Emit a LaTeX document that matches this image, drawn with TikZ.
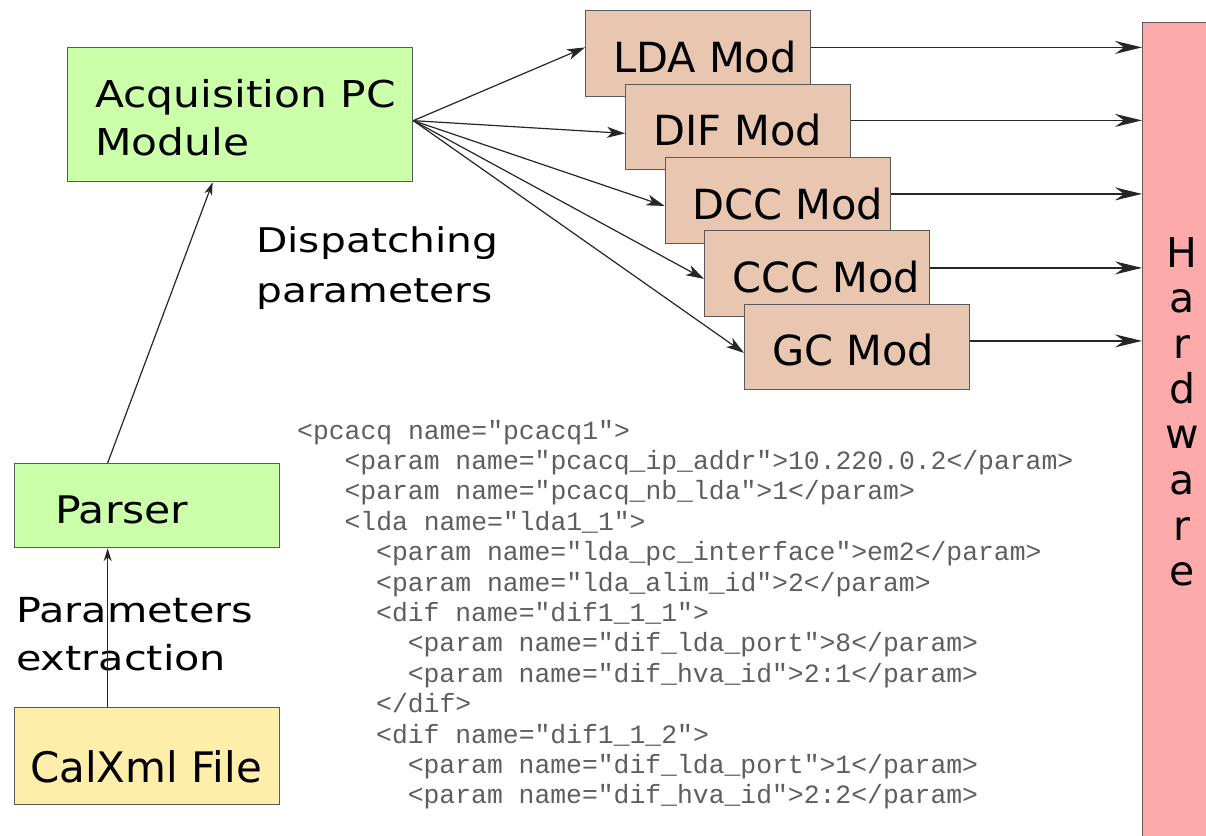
\documentclass[tikz,border=0pt]{standalone}
\usepackage{fontspec}
\setmainfont{DejaVu Sans}
\newfontfamily\xmlfont{Liberation Mono}
\usetikzlibrary{arrows.meta}
\definecolor{boxgreen}{HTML}{CCFFAA}
\definecolor{boxbrown}{HTML}{E9C6AF}
\definecolor{boxyellow}{HTML}{FFEEAA}
\definecolor{boxpink}{HTML}{FFAAAA}
\definecolor{boxline}{HTML}{5A5A5A}
\definecolor{xmlgray}{HTML}{5E5E5E}
\newcommand{\sx}[2]{\scalebox{#1}[1]{#2}}
\begin{document}
\begin{tikzpicture}[x=1pt,y=-1pt,
  box/.style={draw=boxline, line width=1.3pt, inner sep=0pt, anchor=north west},
  greenbox/.style={box, fill=boxgreen},
  brownbox/.style={box, fill=boxbrown, minimum width=225pt, minimum height=85.5pt},
  yellowbox/.style={box, fill=boxyellow},
  pinkbox/.style={box, fill=boxpink},
  lbl/.style={anchor=base west, inner sep=0pt, font=\fontsize{37}{48}\selectfont},
  modlbl/.style={anchor=base west, inner sep=0pt, font=\fontsize{41.5}{48}\selectfont},
  hwlbl/.style={anchor=base, inner sep=0pt, font=\fontsize{41}{48}\selectfont},
  xml/.style={anchor=base west, inner sep=0pt, text=xmlgray, font=\xmlfont\fontsize{26.4}{30}\selectfont},
  conn/.style={line width=1.2pt, draw=black!85},
  fanarrow/.style={conn, -{Stealth[length=18pt, width=11pt, inset=5pt]}},
  bigarrow/.style={conn, -{Stealth[length=27pt, width=13pt, inset=9pt]}},
  uparrow/.style={conn, -{Stealth[length=13pt, width=8pt, inset=4pt]}}
]
\useasboundingbox (0,0) rectangle (1206,835);

% Hardware
\node[pinkbox, minimum width=80pt, minimum height=840pt] (hw) at (1142,22) {};
\node[hwlbl] (h1) at (1182,267) {H};
\node[hwlbl] (h2) at (1182,312) {a};
\node[hwlbl] (h3) at (1182,358) {r};
\node[hwlbl] (h4) at (1182,403) {d};
\node[hwlbl] (h5) at (1182,448) {w};
\node[hwlbl] (h6) at (1182,494) {a};
\node[hwlbl] (h7) at (1182,540) {r};
\node[hwlbl] (h8) at (1182,585) {e};

% Acquisition PC module
\node[greenbox, minimum width=345pt, minimum height=134pt] (acq) at (67,47) {};
\node[lbl] (acqt1) at (95,107) {\sx{1.145}{Acquisition PC}};
\node[lbl] (acqt2) at (95,155) {\sx{1.145}{Module}};

% Modules
\node[brownbox] (lda) at (585,10) {};
\node[modlbl] (ldat) at (613,72) {LDA Mod};
\node[brownbox] (dif) at (625,83.5) {};
\node[modlbl] (dift) at (653,145.5) {DIF Mod};
\node[brownbox] (dcc) at (664.5,157) {};
\node[modlbl] (dcct) at (692.5,219) {DCC Mod};
\node[brownbox] (ccc) at (704,230) {};
\node[modlbl] (ccct) at (732,292) {CCC Mod};
\node[brownbox] (gc) at (744,303.5) {};
\node[modlbl] (gct) at (772,365.5) {GC Mod};

% Parser and CalXml
\node[greenbox, minimum width=265pt, minimum height=84pt] (parser) at (14,463) {};
\node[lbl, font=\fontsize{38}{48}\selectfont] (parsert) at (55,523) {\sx{1.12}{Parser}};
\node[yellowbox, minimum width=265pt, minimum height=97pt] (cal) at (14,707) {};
\node[lbl, font=\fontsize{42}{48}\selectfont] (calt) at (30,782) {CalXml File};

% Free labels
\node[lbl, font=\fontsize{34}{48}\selectfont] (disp1) at (256,252) {\sx{1.2}{Dispatching}};
\node[lbl, font=\fontsize{34}{48}\selectfont] (disp2) at (256,302) {\sx{1.2}{parameters}};
\node[lbl, font=\fontsize{34.5}{48}\selectfont] (pe1) at (16,622) {\sx{1.2}{Parameters}};
\node[lbl, font=\fontsize{34.5}{48}\selectfont] (pe2) at (16,670) {\sx{1.2}{extraction}};

% Connectors
\draw[uparrow] ([xshift=-39.5pt]cal.north) -- ([xshift=-39.5pt]parser.south);
\draw[uparrow] ([xshift=-39.5pt]parser.north) -- ([xshift=-27.5pt]acq.south);

\coordinate (fan) at ([yshift=-6pt]acq.east);
\draw[fanarrow] (fan) -- ([yshift=6pt]lda.west);
\draw[fanarrow] (fan) -- ([yshift=-6.5pt]dif.west);
\draw[fanarrow] (fan) -- ([yshift=-5.5pt]dcc.west);
\draw[fanarrow] (fan) -- ([yshift=-5.5pt]ccc.west);
\draw[fanarrow] (fan) -- ([yshift=-6pt]gc.west);

\draw[bigarrow] ([yshift=6pt]lda.east) coordinate (r1) -- (r1 -| hw.west);
\draw[bigarrow] ([yshift=6.5pt]dif.east) coordinate (r2) -- (r2 -| hw.west);
\draw[bigarrow] ([yshift=6.5pt]dcc.east) coordinate (r3) -- (r3 -| hw.west);
\draw[bigarrow] ([yshift=5.5pt]ccc.east) coordinate (r4) -- (r4 -| hw.west);
\draw[bigarrow] ([yshift=6pt]gc.east) coordinate (r5) -- (r5 -| hw.west);

% XML listing
\node[xml] (x1) at (297,439) {<pcacq name="pcacq1">};
\node[xml] (x2) at (344.4,469.4) {<param name="pcacq\_ip\_addr">10.220.0.2</param>};
\node[xml] (x3) at (344.4,499.8) {<param name="pcacq\_nb\_lda">1</param>};
\node[xml] (x4) at (344.4,530.2) {<lda name="lda1\_1">};
\node[xml] (x5) at (376,560.6) {<param name="lda\_pc\_interface">em2</param>};
\node[xml] (x6) at (376,591) {<param name="lda\_alim\_id">2</param>};
\node[xml] (x7) at (376,621.4) {<dif name="dif1\_1\_1">};
\node[xml] (x8) at (407.6,651.8) {<param name="dif\_lda\_port">8</param>};
\node[xml] (x9) at (407.6,682.2) {<param name="dif\_hva\_id">2:1</param>};
\node[xml] (x10) at (376,712.6) {</dif>};
\node[xml] (x11) at (376,743) {<dif name="dif1\_1\_2">};
\node[xml] (x12) at (407.6,773.4) {<param name="dif\_lda\_port">1</param>};
\node[xml] (x13) at (407.6,803.8) {<param name="dif\_hva\_id">2:2</param>};
\end{tikzpicture}
\end{document}
